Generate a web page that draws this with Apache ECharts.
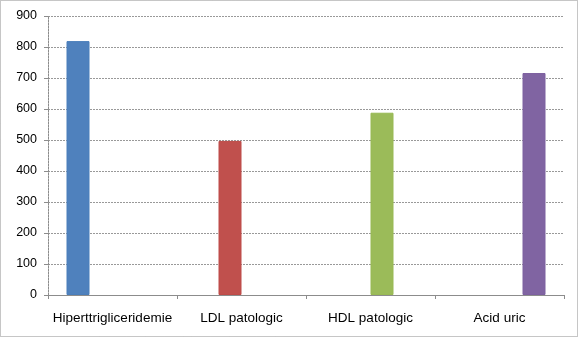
<!DOCTYPE html>
<html>
<head>
<meta charset="utf-8">
<script src="https://cdn.jsdelivr.net/npm/echarts@6/dist/echarts.min.js"></script>
<style>
html,body{margin:0;padding:0;background:#fff;}
#c{width:578px;height:337px;}
</style>
</head>
<body>
<div id="c"></div>
<script>
const categories = ["Hiperttrigliceridemie", "LDL patologic", "HDL patologic", "Acid uric"];
const hipertrigliceridemie = [819, null, null, null];
const ldlPatologic = [null, 497, null, null];
const hdlPatologic = [null, null, 588, null];
const acidUric = [null, null, null, 716];
const yTicks = [0, 100, 200, 300, 400, 500, 600, 700, 800, 900];

const chart = echarts.init(document.getElementById('c'), null, {renderer: 'canvas'});
const font = 'Liberation Sans, Arial, sans-serif';
function bar(name, data, color, border) {
  return {
    name: name, type: 'bar', data: data, barWidth: 23, barGap: '0%',
    itemStyle: {color: color, borderColor: border, borderWidth: 1}
  };
}
chart.setOption({
  animation: false,
  graphic: [{
    type: 'rect', shape: {x: 0.5, y: 0.5, width: 577, height: 336},
    style: {fill: 'none', stroke: '#8c8c8c', lineWidth: 1, lineDash: [1, 1]}, z: 10
  }],
  grid: {left: 48, right: 14, top: 16, bottom: 42},
  xAxis: {
    type: 'category', data: categories, boundaryGap: true,
    axisLine: {lineStyle: {color: '#8c8c8c', width: 1}},
    axisTick: {show: true, length: 4, lineStyle: {color: '#8c8c8c'}},
    axisLabel: {color: '#000', fontFamily: font, fontSize: 13.5, margin: 16, interval: 0}
  },
  yAxis: {
    type: 'value', min: yTicks[0], max: yTicks[yTicks.length - 1], interval: 100,
    axisLine: {show: true, lineStyle: {color: '#8c8c8c', type: [2, 1]}},
    axisTick: {show: true, length: 4, lineStyle: {color: '#8c8c8c'}},
    axisLabel: {color: '#000', fontFamily: font, fontSize: 12.5, margin: 11},
    splitLine: {show: true, lineStyle: {color: '#999', type: [2, 1], width: 1}}
  },
  series: [
    bar('Hiperttrigliceridemie', hipertrigliceridemie, '#4f81bd', '#4a7ebb'),
    bar('LDL patologic', ldlPatologic, '#c0504d', '#be4b48'),
    bar('HDL patologic', hdlPatologic, '#9bbb59', '#98b954'),
    bar('Acid uric', acidUric, '#8064a2', '#7d60a0')
  ]
});
</script>
</body>
</html>
